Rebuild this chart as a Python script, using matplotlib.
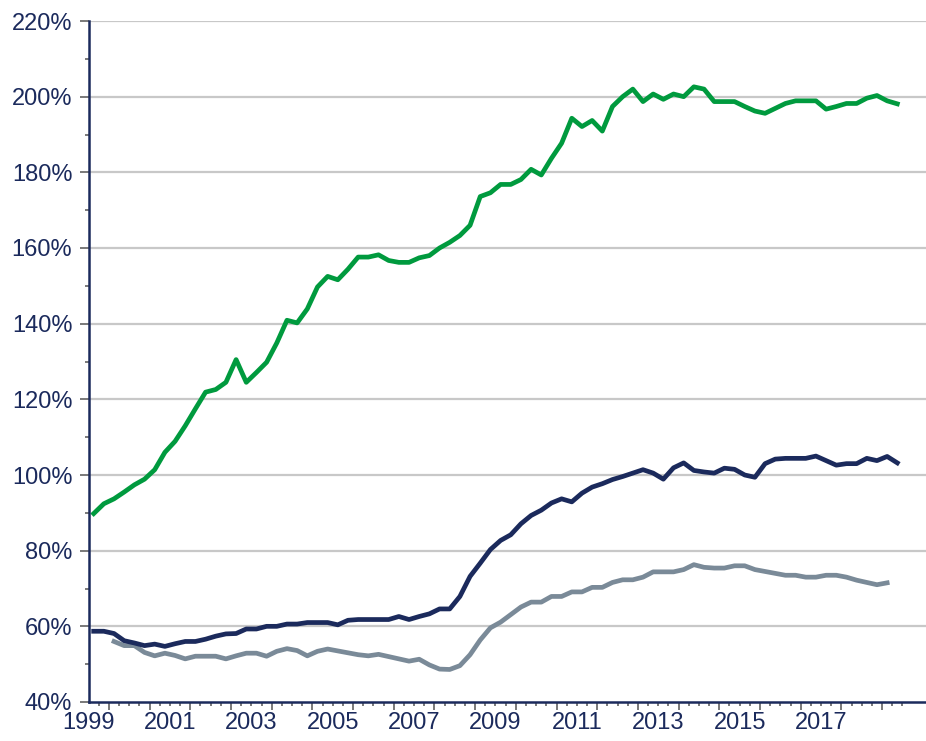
import numpy as np
import pandas as pd
import matplotlib
matplotlib.use("Agg")
import matplotlib.pyplot as plt
from matplotlib.ticker import FixedLocator, FuncFormatter

plt.rcParams['font.family'] = ['Liberation Sans', 'DejaVu Sans']

# quarterly series, 1999Q3 .. 2019Q2
quarters = pd.period_range('1999Q3', '2019Q2', freq='Q')
grey_quarters = pd.period_range('2000Q1', '2019Q1', freq='Q')

green = [89.8, 92.4, 93.7, 95.5, 97.4, 98.9, 101.4, 106.0, 108.9, 113.0,
         117.5, 121.9, 122.6, 124.5, 130.5, 124.5, 127.1, 129.8, 134.9, 140.9,
         140.2, 143.9, 149.7, 152.5, 151.6, 154.4, 157.6, 157.6, 158.2, 156.7,
         156.2, 156.2, 157.4, 158.0, 160.0, 161.5, 163.3, 166.0, 173.6, 174.6,
         176.8, 176.8, 178.1, 180.8, 179.3, 183.7, 187.7, 194.3, 192.1, 193.7,
         190.9, 197.4, 200.0, 202.0, 198.7, 200.7, 199.3, 200.7, 200.0, 202.6,
         202.0, 198.7, 198.7, 198.7, 197.4, 196.2, 195.6, 196.9, 198.2, 198.9,
         198.9, 198.9, 196.7, 197.4, 198.2, 198.2, 199.6, 200.3, 198.9, 198.1]

navy = [58.7, 58.7, 58.1, 56.2, 55.6, 54.9, 55.3, 54.7, 55.4, 56.0,
        56.0, 56.6, 57.4, 58.0, 58.1, 59.3, 59.3, 60.0, 60.0, 60.6,
        60.6, 61.0, 61.0, 61.0, 60.4, 61.6, 61.8, 61.8, 61.8, 61.8,
        62.6, 61.8, 62.6, 63.3, 64.6, 64.6, 67.9, 73.2, 76.7, 80.3,
        82.7, 84.2, 87.1, 89.3, 90.7, 92.6, 93.7, 92.9, 95.2, 96.8,
        97.7, 98.8, 99.6, 100.5, 101.4, 100.5, 98.9, 101.9, 103.2, 101.2,
        100.8, 100.5, 101.8, 101.5, 100.0, 99.4, 103.0, 104.2, 104.4, 104.4,
        104.4, 105.0, 103.8, 102.6, 103.0, 103.0, 104.4, 103.8, 104.9, 103.2]

grey = [56.0, 54.9, 54.9, 53.1, 52.2, 52.9, 52.3, 51.4, 52.1, 52.1,
        52.1, 51.4, 52.2, 52.9, 52.9, 52.1, 53.4, 54.1, 53.6, 52.2,
        53.4, 54.0, 53.5, 53.0, 52.5, 52.2, 52.6, 52.0, 51.4, 50.8,
        51.3, 49.8, 48.7, 48.6, 49.6, 52.5, 56.4, 59.6, 61.1, 63.1,
        65.1, 66.4, 66.4, 67.9, 67.9, 69.1, 69.1, 70.3, 70.3, 71.6,
        72.3, 72.3, 73.0, 74.4, 74.4, 74.4, 75.0, 76.3, 75.6, 75.4,
        75.4, 76.0, 76.0, 75.0, 74.5, 74.0, 73.5, 73.5, 73.0, 73.0,
        73.5, 73.5, 73.0, 72.2, 71.6, 71.0, 71.5]

year_labels = [1999, 2001, 2003, 2005, 2007, 2009, 2011, 2013, 2015, 2017]


def to_year(periods):
    return np.array([p.year + (p.quarter - 0.5) / 4 for p in periods])


NAVY = '#1b2a5c'
GREEN = '#009a3e'
GREY = '#7a8a98'

fig = plt.figure(figsize=(9.26, 7.41), dpi=100)
ax = fig.add_axes([89 / 926, 39 / 741, 1 - 89 / 926, 681 / 741])

lw = 3.4
ax.plot(to_year(grey_quarters), grey, color=GREY, lw=lw, solid_joinstyle='round', zorder=3)
ax.plot(to_year(quarters), navy, color=NAVY, lw=lw, solid_joinstyle='round', zorder=4)
ax.plot(to_year(quarters), green, color=GREEN, lw=lw, solid_joinstyle='round', zorder=5)

ax.set_xlim(1999.51, 2020.08)
ax.set_ylim(40, 220)

# y axis
ax.yaxis.set_major_locator(FixedLocator(np.arange(40, 221, 20)))
ax.yaxis.set_minor_locator(FixedLocator(np.arange(50, 211, 20)))
ax.yaxis.set_major_formatter(FuncFormatter(lambda v, p: '%d%%' % v))
ax.tick_params(axis='y', which='major', length=6.5, width=1.3, color='#6e6e6e',
               pad=5.5, labelsize=17, labelcolor=NAVY)
ax.tick_params(axis='y', which='minor', length=3, width=1.3, color='#6e6e6e')

# x axis: year boundaries + quarter ticks, labels mid-year
ax.xaxis.set_major_locator(FixedLocator(np.arange(2000, 2020)))
ax.xaxis.set_minor_locator(FixedLocator(np.arange(1999.75, 2019.6, 0.25)))
ax.set_xticklabels([])
ax.tick_params(axis='x', which='major', length=6, width=1.3, color='#6e6e6e')
ax.tick_params(axis='x', which='minor', length=3, width=1.3, color='#6e6e6e')
for yr in year_labels:
    ax.annotate(str(yr), xy=(yr + 0.5, 0), xycoords=('data', 'axes fraction'),
                xytext=(0, -7), textcoords='offset points', ha='center', va='top',
                fontsize=17, color=NAVY, annotation_clip=False)

# grid and spines
for v in np.arange(60, 221, 20):
    ax.axhline(v, color='#c8c8c8', lw=1.6, zorder=1)
ax.spines['top'].set_visible(False)
ax.spines['right'].set_visible(False)
ax.spines['left'].set_color(NAVY)
ax.spines['left'].set_linewidth(1.8)
ax.spines['bottom'].set_color(NAVY)
ax.spines['bottom'].set_linewidth(1.8)
ax.spines['left'].set_zorder(6)
ax.spines['bottom'].set_zorder(6)

fig.savefig('out.png', dpi=100)
